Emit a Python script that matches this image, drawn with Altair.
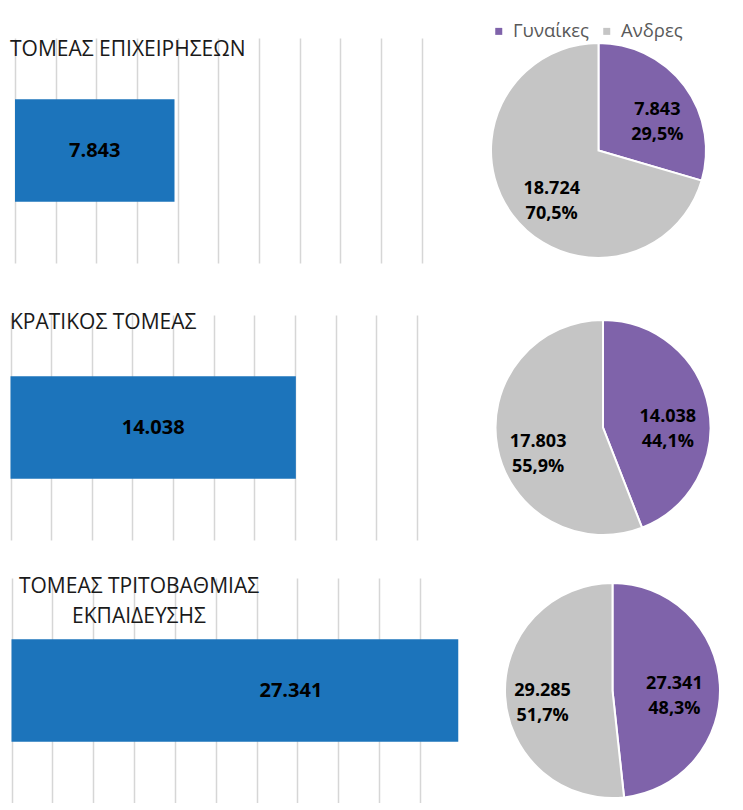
import altair as alt
import pandas as pd

# ---------------- data ----------------
sectors = ["ΤΟΜΕΑΣ ΕΠΙΧΕΙΡΗΣΕΩΝ", "ΚΡΑΤΙΚΟΣ ΤΟΜΕΑΣ", "ΤΟΜΕΑΣ ΤΡΙΤΟΒΑΘΜΙΑΣ ΕΚΠΑΙΔΕΥΣΗΣ"]
title_lines = [["ΤΟΜΕΑΣ ΕΠΙΧΕΙΡΗΣΕΩΝ"], ["ΚΡΑΤΙΚΟΣ ΤΟΜΕΑΣ"], ["ΤΟΜΕΑΣ ΤΡΙΤΟΒΑΘΜΙΑΣ", "ΕΚΠΑΙΔΕΥΣΗΣ"]]
genders = ["Γυναίκες", "Ανδρες"]
women = [7843, 14038, 27341]
men = [18724, 17803, 29285]
women_pct = ["29,5%", "44,1%", "48,3%"]
men_pct = ["70,5%", "55,9%", "51,7%"]
grid_step = [2000, 2000, 2500]
grid_max = [20000, 20000, 25000]

# ---------------- style ----------------
FONT = "Open Sans"
BLUE = "#1C74BB"
PURPLE = "#7F63AA"
GRAY = "#C5C5C5"
GRIDC = "#D6D6D6"
H = 225


def fmt(v):
    return f"{v:,}".replace(",", ".")


def bar_panel(i, domain, width, title_kw, label_dx):
    df = pd.DataFrame({"sector": [sectors[i]], "value": [women[i]], "label": [fmt(women[i])]})
    xscale = alt.Scale(domain=domain, nice=False, zero=False)
    xaxis = alt.Axis(values=list(range(0, grid_max[i] + 1, grid_step[i])), labels=False, ticks=False,
                     domain=False, title=None, grid=True, gridColor=GRIDC, gridWidth=1.5)
    yenc = alt.Y("sector:N", scale=alt.Scale(paddingInner=0, paddingOuter=0.598), axis=None)
    base = alt.Chart(df)
    bars = base.mark_bar(color=BLUE).encode(
        x=alt.X("value:Q", scale=xscale, axis=xaxis),
        x2=alt.datum(0),
        y=yenc,
    )
    text = base.transform_calculate(mid="datum.value / 2").mark_text(
        font=FONT, fontSize=20, fontWeight="bold", color="#000000", dx=label_dx
    ).encode(
        x=alt.X("mid:Q", scale=xscale, axis=xaxis),
        y=yenc,
        text="label:N",
    )
    title = alt.TitleParams(text=title_lines[i], font=FONT, fontSize=21, fontWeight="normal",
                            color="#1A1A1A", baseline="top", lineHeight=30, **title_kw)
    return alt.layer(bars, text).properties(width=width, height=H, title=title)


def pie_panel(i, legend, ldx=0, ldy=0):
    df = pd.DataFrame({
        "gender": genders,
        "value": [women[i], men[i]],
        "ord": [0, 1],
        "label": [fmt(women[i]) + "\n" + women_pct[i], fmt(men[i]) + "\n" + men_pct[i]],
    })
    base = alt.Chart(df).encode(theta=alt.Theta("value:Q", stack=True), order=alt.Order("ord:Q"))
    arcs = base.mark_arc(radius=107.5, stroke="white", strokeWidth=2).encode(
        color=alt.Color("gender:N", scale=alt.Scale(domain=genders, range=[PURPLE, GRAY]), legend=legend)
    )
    labels = base.mark_text(radius=66, font=FONT, fontSize=18, fontWeight="bold", color="#000000",
                            lineBreak="\n", lineHeight=25, dx=ldx, dy=ldy).encode(
        text="label:N", detail="gender:N")
    return alt.layer(arcs, labels).properties(width=230, height=H)


legend = alt.Legend(orient="none", legendX=6, legendY=-16, direction="horizontal", title=None,
                    symbolType="square", symbolSize=49, symbolStrokeWidth=0, labelFont=FONT,
                    labelFontSize=18.5, labelColor="#595959", labelOffset=5, columnPadding=8, padding=0)

RES = dict(x="independent", y="independent", color="independent", theta="independent")

row1 = alt.hconcat(
    bar_panel(0, [-246, 20013], 412, dict(anchor="start", offset=-22), 0),
    pie_panel(0, legend, 6, -1),
    spacing=61.5,
).resolve_scale(**RES)

row2 = alt.hconcat(
    bar_panel(1, [-25, 20245], 412, dict(anchor="start", offset=-18), 0),
    pie_panel(1, None, 0, 2),
    spacing=66,
).resolve_scale(**RES)

row3 = alt.hconcat(
    bar_panel(2, [-92, 27570], 452, dict(anchor="start", align="center", dx=129, offset=-49), 56),
    pie_panel(2, None, -4, -3),
    spacing=35.5,
).resolve_scale(**RES)

lower = alt.vconcat(row2, row3, spacing=36).resolve_scale(**RES)

chart = alt.vconcat(row1, lower, spacing=49).resolve_scale(**RES).properties(
    padding={"left": 2, "top": 14, "right": 0, "bottom": 0},
    background="white",
).configure_view(stroke="transparent", strokeWidth=0)

chart.save("out.html", embed_options={"renderer": "svg", "actions": False})
